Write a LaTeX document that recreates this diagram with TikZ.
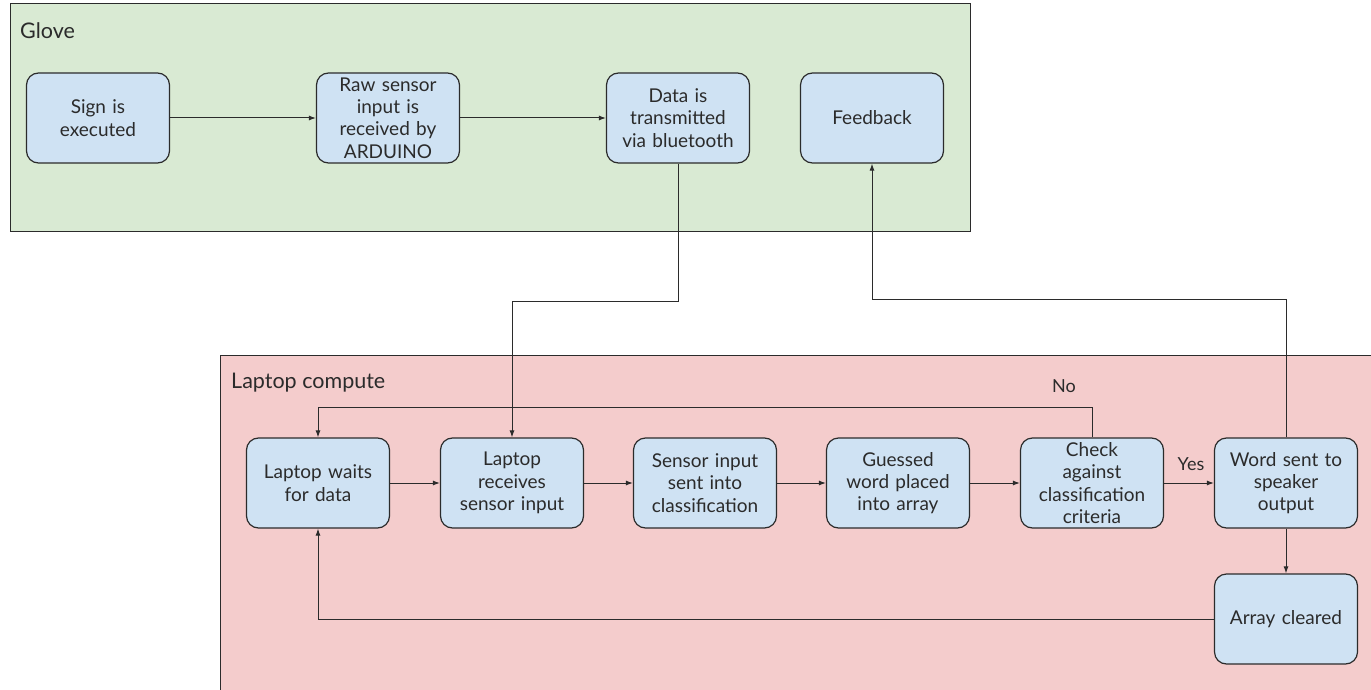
\documentclass[tikz,border=0pt]{standalone}
\usepackage{fontspec}
\setmainfont{Lato}
\usetikzlibrary{arrows.meta}

\definecolor{gloveGreen}{HTML}{D9EAD3}
\definecolor{laptopRed}{HTML}{F4CCCC}
\definecolor{stageBlue}{HTML}{CFE2F3}
\definecolor{edgeGray}{HTML}{2B2B2B}

\def\rowTop{118}
\def\rowBot{483}

\begin{document}
\begin{tikzpicture}[x=1pt, y=-1pt, >={Latex[length=7pt,width=5pt]},
    stage/.style={draw=edgeGray, line width=1.2pt, fill=stageBlue,
      rounded corners=12pt, minimum width=143pt, minimum height=90pt,
      text width=136pt, inner ysep=0pt, align=center, text=edgeGray,
      font=\fontsize{19}{22.3}\selectfont},
    flow/.style={->, draw=edgeGray, line width=1pt},
    grouplabel/.style={anchor=west, inner xsep=0pt, text=edgeGray,
      font=\fontsize{21.5}{24}\selectfont},
    branch/.style={text=edgeGray, font=\fontsize{18}{20}\selectfont}]
      \useasboundingbox (0,0) rectangle (1371,690);
      % group boxes
      \draw[fill=gloveGreen, draw=edgeGray, line width=1pt] (10,4) rectangle (970,231);
      \draw[fill=laptopRed, draw=edgeGray, line width=1pt] (220,355) rectangle (1390,710);
      \node[grouplabel] (glove) at (20,31) {Glove};
      \node[grouplabel] (laptop) at (231,383) {Laptop compute};
      % glove stages
      \node[stage] (sign) at (98,\rowTop) {Sign is\\executed};
      \node[stage] (raw) at (388,\rowTop) {Raw sensor\\input is\\received by\\ARDUINO};
      \node[stage] (data) at (678,\rowTop) {Data is\\transmitted\\via bluetooth};
      \node[stage] (feedback) at (872,\rowTop) {Feedback};
      % laptop stages
      \node[stage] (waits) at (318,\rowBot) {Laptop waits\\for data};
      \node[stage] (receives) at (512,\rowBot) {Laptop\\receives\\sensor input};
      \node[stage] (sensor) at (705,\rowBot) {Sensor input\\sent into\\classification};
      \node[stage] (guessed) at (898,\rowBot) {Guessed\\word placed\\into array};
      \node[stage] (check) at (1092,\rowBot) {Check\\against\\classification\\criteria};
      \node[stage] (word) at (1286,\rowBot) {Word sent to\\speaker\\output};
      \node[stage] (array) at (1286,619) {Array cleared};
      % connectors
      \draw[flow] (sign) -- (raw);
      \draw[flow] (raw) -- (data);
      \draw[flow] (data.south) -- ++(0,138) -| (receives.north);
      \draw[flow] (word.north) -- ++(0,-138) -| (feedback.south);
      \draw[flow] (waits) -- (receives);
      \draw[flow] (receives) -- (sensor);
      \draw[flow] (sensor) -- (guessed);
      \draw[flow] (guessed) -- (check);
      \draw[flow] (check.north) -- ++(0,-30) -| (waits.north);
      \node[branch] (no) at (1064,386) {No};
      \draw[flow] (check) -- (word);
      \node[branch] (yes) at (1191,464) {Yes};
      \draw[flow] (word) -- (array);
      \draw[flow] (array.west) -| (waits.south);
\end{tikzpicture}
\end{document}
